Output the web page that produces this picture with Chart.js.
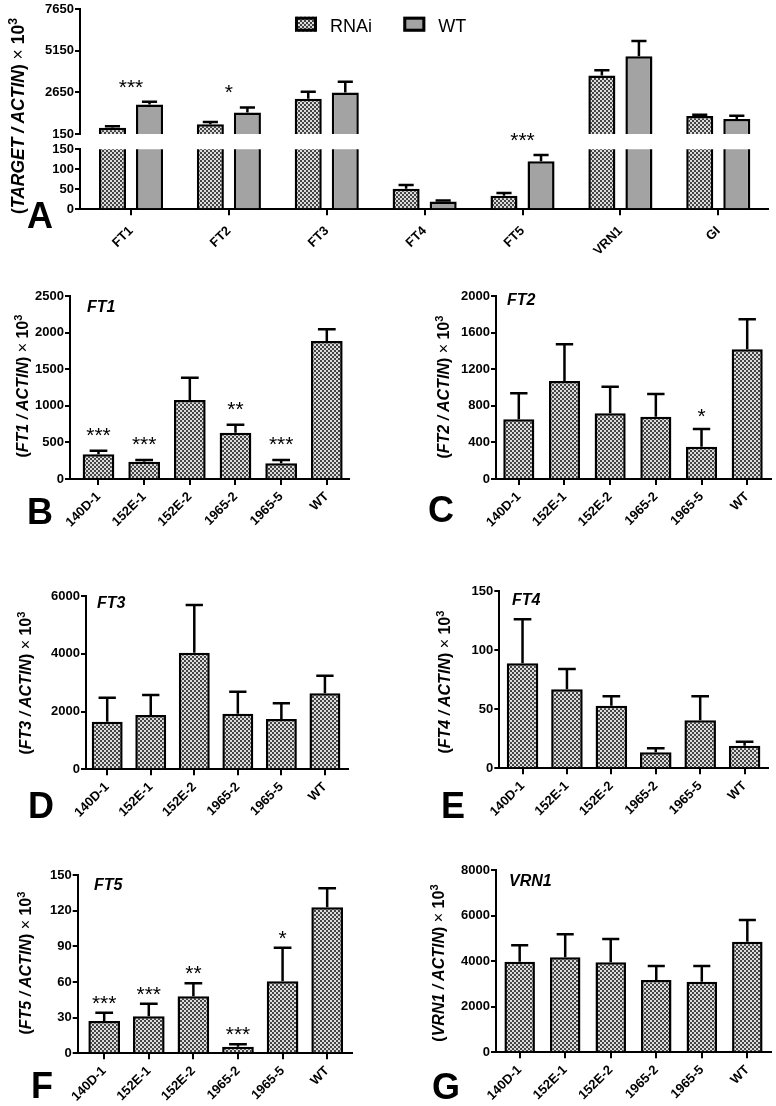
<!DOCTYPE html>
<html>
<head>
<meta charset="utf-8">
<script src="https://cdn.jsdelivr.net/npm/chart.js@4.4.1/dist/chart.umd.min.js"></script>
<style>
  body { margin: 0; background: #fff; }
  #fig { position: relative; width: 776px; height: 1106px; background: #fff; overflow: hidden;
         font-family: 'Liberation Sans', Arial, Helvetica, sans-serif; color: #000; }
  #fig canvas { position: absolute; left: 0; top: 0; }
  .ytitle { position: absolute; white-space: nowrap; font-weight: bold; font-size: 16px; line-height: 1;
            transform: translate(-50%, -50%) rotate(-90deg); }
  .ytitle sup { font-size: 70%; vertical-align: 0.55em; }
  .ytitle .x { font-weight: normal; }
  .gene { position: absolute; font-weight: bold; font-style: italic; font-size: 16px; line-height: 1;
          transform: translateY(-50%); }
  .letter { position: absolute; font-weight: bold; font-size: 36px; line-height: 1;
            transform: translate(-50%, -50%); }
</style>
</head>
<body>
<div id="fig">
  <canvas id="aTop" width="776" height="1106"></canvas>
  <canvas id="aBottom" width="776" height="1106"></canvas>
  <canvas id="chartB" width="776" height="1106"></canvas>
  <canvas id="chartC" width="776" height="1106"></canvas>
  <canvas id="chartD" width="776" height="1106"></canvas>
  <canvas id="chartE" width="776" height="1106"></canvas>
  <canvas id="chartF" width="776" height="1106"></canvas>
  <canvas id="chartG" width="776" height="1106"></canvas>

  <div class="ytitle" style="left:17px;top:116px;font-size:17.5px">(<i>TARGET / ACTIN</i>) <span class="x">×</span> 10<sup>3</sup></div>
  <div class="ytitle" style="left:22px;top:386px">(<i>FT1 / ACTIN</i>) <span class="x">×</span> 10<sup>3</sup></div>
  <div class="ytitle" style="left:443px;top:387px">(<i>FT2 / ACTIN</i>) <span class="x">×</span> 10<sup>3</sup></div>
  <div class="ytitle" style="left:25px;top:683px">(<i>FT3 / ACTIN</i>) <span class="x">×</span> 10<sup>3</sup></div>
  <div class="ytitle" style="left:444px;top:682px">(<i>FT4 / ACTIN</i>) <span class="x">×</span> 10<sup>3</sup></div>
  <div class="ytitle" style="left:25px;top:963px">(<i>FT5 / ACTIN</i>) <span class="x">×</span> 10<sup>3</sup></div>
  <div class="ytitle" style="left:438px;top:963px">(<i>VRN1 / ACTIN</i>) <span class="x">×</span> 10<sup>3</sup></div>

  <div class="gene" style="left:87px;top:307px">FT1</div>
  <div class="gene" style="left:507px;top:300px">FT2</div>
  <div class="gene" style="left:97px;top:603px">FT3</div>
  <div class="gene" style="left:512px;top:600px">FT4</div>
  <div class="gene" style="left:94px;top:885px">FT5</div>
  <div class="gene" style="left:509px;top:881px">VRN1</div>

  <div class="letter" style="left:40px;top:216px">A</div>
  <div class="letter" style="left:40px;top:512px">B</div>
  <div class="letter" style="left:441px;top:510px">C</div>
  <div class="letter" style="left:41px;top:806px">D</div>
  <div class="letter" style="left:453px;top:806px">E</div>
  <div class="letter" style="left:42px;top:1086px">F</div>
  <div class="letter" style="left:446px;top:1087px">G</div>
</div>

<script>
const W = 776, H = 1106;
const FONT = "'Liberation Sans', Arial, Helvetica, sans-serif";

// panel A: RNAi pool vs WT, broken y axis
const genes = ["FT1", "FT2", "FT3", "FT4", "FT5", "VRN1", "GI"];
const rnaiMean = [530, 730, 2270, 51.5, 34, 3670, 1230];
const rnaiErr = [90, 140, 420, 9.5, 7, 320, 80];
const wtMean = [1930, 1450, 2650, 19.4, 120, 4830, 1050];
const wtErr = [156, 300, 640, 2.6, 16, 920, 200];
const sigA = ["***", "*", "", "", "***", "", ""];
const ticksAUpper = [150, 2650, 5150, 7650];
const ticksALower = [0, 50, 100, 150];

// panels B-G: individual lines
const lines = ["140D-1", "152E-1", "152E-2", "1965-2", "1965-5", "WT"];
const ft1 = [337, 236, 1079, 633, 214, 1885];
const ft1Err = [50, 24, 305, 109, 46, 160];
const ft1Sig = ["***", "***", "", "**", "***", ""];
const ft1Ticks = [0, 500, 1000, 1500, 2000, 2500];

const ft2 = [652, 1071, 718, 681, 353, 1417];
const ft2Err = [285, 401, 291, 248, 193, 328];
const ft2Sig = ["", "", "", "", "*", ""];
const ft2Ticks = [0, 400, 800, 1200, 1600, 2000];

const ft3 = [1648, 1880, 4037, 1925, 1741, 2631];
const ft3Err = [831, 692, 1651, 762, 544, 610];
const ft3Ticks = [0, 2000, 4000, 6000];

const ft4 = [88.8, 66.8, 53, 13.5, 40.6, 19.1];
const ft4Err = [37.2, 17.2, 8, 3.5, 20.4, 3.4];
const ft4Ticks = [0, 50, 100, 150];

const ft5 = [27.2, 31.1, 48, 5.6, 60.6, 122.8];
const ft5Err = [7, 10.6, 10.9, 2, 28.2, 16];
const ft5Sig = ["***", "***", "**", "***", "*", ""];
const ft5Ticks = [0, 30, 60, 90, 120, 150];

const vrn1 = [3976, 4169, 3950, 3173, 3098, 4853];
const vrn1Err = [719, 1009, 1022, 614, 689, 952];
const vrn1Ticks = [0, 2000, 4000, 6000, 8000];

function checker() {
  const c = document.createElement("canvas");
  c.width = c.height = 4;
  const g = c.getContext("2d");
  g.fillStyle = "#dcdcdc";
  g.fillRect(0, 0, 4, 4);
  g.fillStyle = "#454545";
  g.fillRect(0, 0, 2, 2);
  g.fillRect(2, 2, 2, 2);
  return g.createPattern(c, "repeat");
}
const RNAI_FILL = checker();
const WT_FILL = "#a3a3a3";

// error bars (up only) and significance stars
const errorBars = {
  id: "errorBars",
  afterDatasetsDraw(chart, args, opts) {
    const { ctx } = chart;
    const y = chart.scales.y, x = chart.scales.x;
    const tops = [];
    ctx.save();
    ctx.strokeStyle = "#000";
    ctx.lineWidth = 2.5;
    chart.data.datasets.forEach((ds, d) => {
      chart.getDatasetMeta(d).data.forEach((bar, i) => {
        const v = ds.data[i].y;
        if (v < y.min || v > y.max) return;
        const yt = y.getPixelForValue(v + ds.errors[i]);
        const cw = bar.width * 0.56;
        ctx.beginPath();
        ctx.moveTo(bar.x, bar.y);
        ctx.lineTo(bar.x, yt);
        ctx.moveTo(bar.x - cw / 2, yt);
        ctx.lineTo(bar.x + cw / 2, yt);
        ctx.stroke();
        tops[i] = Math.min(tops[i] ?? Infinity, yt);
      });
    });
    ctx.fillStyle = "#000";
    ctx.font = `21px ${FONT}`;
    ctx.textAlign = "center";
    ctx.textBaseline = "alphabetic";
    (opts.sig || []).forEach((s, i) => {
      if (!s || tops[i] === undefined) return;
      ctx.fillText(s, x.getPixelForValue(i), tops[i] - opts.gap + 10);
    });
    ctx.restore();
  },
};

const legendBoxes = {
  id: "legendBoxes",
  afterDraw(chart, args, opts) {
    const { ctx } = chart;
    ctx.save();
    chart.data.datasets.forEach((ds, d) => {
      const bx = opts.x[d];
      ctx.fillStyle = ds.backgroundColor;
      ctx.fillRect(bx, opts.y, 22, 15);
      ctx.lineWidth = 3;
      ctx.strokeStyle = "#000";
      ctx.strokeRect(bx + 1.5, opts.y + 1.5, 19, 12);
      ctx.fillStyle = "#000";
      ctx.font = `18px ${FONT}`;
      ctx.textBaseline = "alphabetic";
      ctx.fillText(ds.label, bx + opts.textGap, opts.y + 15);
    });
    ctx.restore();
  },
};

const tickFont = { family: FONT, weight: "bold", size: 13 };

function makeChart(id, p) {
  const a = p.area;
  const showX = p.showX !== false;
  const XH = showX ? 70 : 0;
  return new Chart(document.getElementById(id), {
    type: "bar",
    data: {
      datasets: p.series.map((s) => ({
        label: s.label,
        data: s.values.map((v, i) => ({ x: i, y: v })),
        errors: s.errors,
        backgroundColor: s.fill,
        borderColor: "#000",
        borderWidth: 2.5,
        barPercentage: p.barPct,
        categoryPercentage: p.catPct,
        clip: 0,
      })),
    },
    options: {
      responsive: false,
      animation: false,
      events: [],
      layout: { padding: { left: 0, top: a.t, right: W - a.r, bottom: H - a.b - XH } },
      plugins: {
        legend: { display: false },
        tooltip: { enabled: false },
        errorBars: { sig: p.sig, gap: p.starGap || 16 },
        legendBoxes: p.legend || false,
      },
      scales: {
        x: {
          type: "linear",
          display: showX,
          min: p.xMin,
          max: p.xMax,
          offset: false,
          afterBuildTicks: (s) => { s.ticks = p.labels.map((_, i) => ({ value: i })); },
          afterFit: (s) => { s.height = XH; },
          ticks: {
            callback: (v) => p.labels[v],
            minRotation: 45,
            maxRotation: 45,
            autoSkip: false,
            color: "#000",
            font: tickFont,
            padding: p.xPad ?? 4,
          },
          grid: { display: true, offset: false, drawOnChartArea: false, drawTicks: true, tickLength: 6, color: "#000", lineWidth: 2 },
          border: { display: true, color: "#000", width: 2 },
        },
        y: {
          min: p.yTicks[0],
          max: p.yTicks[p.yTicks.length - 1],
          afterBuildTicks: (s) => { s.ticks = p.yTicks.map((v) => ({ value: v })); },
          afterFit: (s) => { s.width = a.l; },
          ticks: { callback: (v) => String(v), color: "#000", font: tickFont, padding: p.yPad ?? 1 },
          grid: { display: true, drawOnChartArea: false, drawTicks: true, tickLength: 5, color: "#000", lineWidth: 2 },
          border: { display: true, color: "#000", width: 2 },
        },
      },
    },
    plugins: [errorBars, legendBoxes],
  });
}

const seriesA = [
  { label: "RNAi", values: rnaiMean, errors: rnaiErr, fill: RNAI_FILL },
  { label: "WT", values: wtMean, errors: wtErr, fill: WT_FILL },
];

makeChart("aTop", {
  area: { l: 80, t: 9.3, r: 768, b: 134 },
  showX: false,
  labels: genes, series: seriesA, yTicks: ticksAUpper,
  xMin: -0.521, xMax: 6.508, catPct: 0.757, barPct: 0.73,
  sig: sigA, starGap: 18,
  legend: { x: [295, 403.3], y: 16.7, textGap: 35 },
});
makeChart("aBottom", {
  area: { l: 80, t: 149.3, r: 768, b: 209.3 },
  labels: genes, series: seriesA, yTicks: ticksALower,
  xMin: -0.521, xMax: 6.508, catPct: 0.757, barPct: 0.73,
  sig: sigA, starGap: 18, xPad: 8,
});

function single(values, errors) {
  return [{ label: "", values: values, errors: errors, fill: RNAI_FILL }];
}

makeChart("chartB", {
  area: { l: 70, t: 296, r: 349, b: 479 },
  labels: lines, series: single(ft1, ft1Err), yTicks: ft1Ticks,
  xMin: -0.624, xMax: 5.486, catPct: 1, barPct: 0.694, sig: ft1Sig, starGap: 19,
});
makeChart("chartC", {
  area: { l: 496, t: 296, r: 771, b: 479 },
  labels: lines, series: single(ft2, ft2Err), yTicks: ft2Ticks,
  xMin: -0.499, xMax: 5.521, catPct: 1, barPct: 0.68, sig: ft2Sig, starGap: 16,
});
makeChart("chartD", {
  area: { l: 86, t: 596, r: 348, b: 769.3 },
  labels: lines, series: single(ft3, ft3Err), yTicks: ft3Ticks,
  xMin: -0.487, xMax: 5.53, catPct: 1, barPct: 0.71,
});
makeChart("chartE", {
  area: { l: 499.3, t: 591, r: 767.7, b: 768.3 },
  labels: lines, series: single(ft4, ft4Err), yTicks: ft4Ticks,
  xMin: -0.523, xMax: 5.52, catPct: 1, barPct: 0.71,
});
makeChart("chartF", {
  area: { l: 77.7, t: 875, r: 351.7, b: 1053.3 },
  labels: lines, series: single(ft5, ft5Err), yTicks: ft5Ticks,
  xMin: -0.594, xMax: 5.55, catPct: 1, barPct: 0.71, sig: ft5Sig, starGap: 13,
});
makeChart("chartG", {
  area: { l: 496, t: 870, r: 771, b: 1052.3 },
  labels: lines, series: single(vrn1, vrn1Err), yTicks: vrn1Ticks,
  xMin: -0.52, xMax: 5.52, catPct: 1, barPct: 0.67,
});
</script>
</body>
</html>
